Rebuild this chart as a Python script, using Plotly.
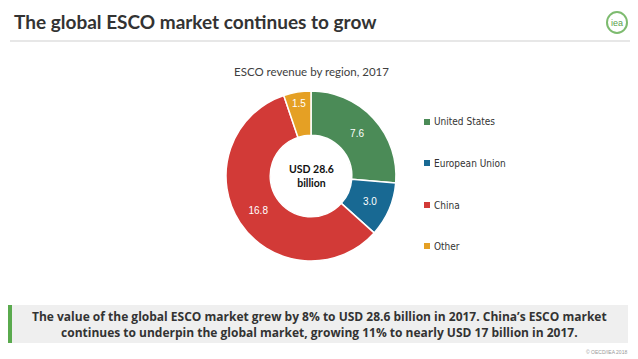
import plotly.graph_objects as go

categories = ["United States", "European Union", "China", "Other"]
values = [7.6, 3.0, 16.8, 1.5]
colors = ["#4b8b57", "#186993", "#d23a37", "#e5a024"]
chart_title = "ESCO revenue by region, 2017"
center_label = "<b>USD 28.6<br>billion</b>"
slide_title = "The global ESCO market continues to grow"
takeaway = ("<b>The value of the global ESCO market grew by 8% to USD 28.6 billion in 2017. China’s ESCO market<br>"
            "continues to underpin the global market, growing 11% to nearly USD 17 billion in 2017.</b>")

W, H = 638, 359
fig = go.Figure()
fig.add_trace(go.Pie(
    labels=categories, values=values, sort=False, direction="clockwise", rotation=0,
    hole=0.48, marker=dict(colors=colors, line=dict(color="white", width=1.5)),
    texttemplate="%{value:.1f}", textposition="inside", insidetextorientation="horizontal",
    textfont=dict(color="white", size=10, family="Liberation Sans Narrow, Arial Narrow, Arial"),
    domain=dict(x=[226/W, 396/W], y=[1-261/H, 1-91/H]),
    showlegend=False, hoverinfo="label+value",
))

shapes = []
annotations = []
# slide title and rule
annotations.append(dict(x=12/W, y=1-22/H, xref="paper", yref="paper", xanchor="left", yanchor="middle",
                        text="<b>"+slide_title+"</b>", showarrow=False,
                        font=dict(size=19, color="#333333", family="Lato, Open Sans, sans-serif")))
shapes.append(dict(type="line", xref="paper", yref="paper", x0=10/W, x1=630/W, y0=1-41/H, y1=1-41/H,
                   line=dict(color="#cfcfcf", width=1)))
# iea logo
shapes.append(dict(type="circle", xref="paper", yref="paper", x0=607/W, x1=627/W, y0=1-33/H, y1=1-12/H,
                   line=dict(color="#7dbb6f", width=2), fillcolor="white"))
annotations.append(dict(x=617/W, y=1-23/H, xref="paper", yref="paper", text="iea", showarrow=False,
                        font=dict(size=9, color="#5aa04a", family="Liberation Sans"), xanchor="center", yanchor="middle"))
# chart title
annotations.append(dict(x=311/W, y=1-72/H, xref="paper", yref="paper", text=chart_title, showarrow=False,
                        font=dict(size=11.5, color="#404040", family="Lato, Open Sans, sans-serif"),
                        xanchor="center", yanchor="middle"))
# center label
annotations.append(dict(x=311/W, y=1-176/H, xref="paper", yref="paper", text=center_label, showarrow=False,
                        font=dict(size=10.5, color="#111111", family="Lato, Open Sans, sans-serif"),
                        xanchor="center", yanchor="middle"))
# manual legend
legend_y = [122, 163, 205, 246]
for cat, col, ly in zip(categories, colors, legend_y):
    shapes.append(dict(type="rect", xref="paper", yref="paper", x0=424/W, x1=430/W,
                       y0=1-(ly+3)/H, y1=1-(ly-3)/H, fillcolor=col, line=dict(width=0)))
    annotations.append(dict(x=432/W, y=1-ly/H, xref="paper", yref="paper", text=cat, showarrow=False,
                            xanchor="left", yanchor="middle",
                            font=dict(size=10, color="#333333", family="DejaVu Sans Condensed, Liberation Sans Narrow, Arial")))
# takeaway box
shapes.append(dict(type="rect", xref="paper", yref="paper", x0=8/W, x1=628/W, y0=1-343/H, y1=1-305/H,
                   fillcolor="#efefef", line=dict(width=0), layer="below"))
shapes.append(dict(type="rect", xref="paper", yref="paper", x0=8/W, x1=12/W, y0=1-343/H, y1=1-305/H,
                   fillcolor="#5aaa4e", line=dict(width=0)))
annotations.append(dict(x=319/W, y=1-324/H, xref="paper", yref="paper", text=takeaway, showarrow=False,
                        xanchor="center", yanchor="middle", align="center",
                        font=dict(size=12, color="#333333", family="Open Sans, Lato, sans-serif")))
annotations.append(dict(x=629/W, y=1-352/H, xref="paper", yref="paper", text="© OECD/IEA 2018", showarrow=False,
                        xanchor="right", yanchor="middle", font=dict(size=5, color="#999999", family="Liberation Sans")))

fig.update_layout(width=W, height=H, margin=dict(l=0, r=0, t=0, b=0), paper_bgcolor="white",
                  plot_bgcolor="white", shapes=shapes, annotations=annotations, showlegend=False)
fig.write_html("out.html", config={"displayModeBar": False},
               post_script="document.body.style.margin='0';document.body.style.overflow='hidden';")
